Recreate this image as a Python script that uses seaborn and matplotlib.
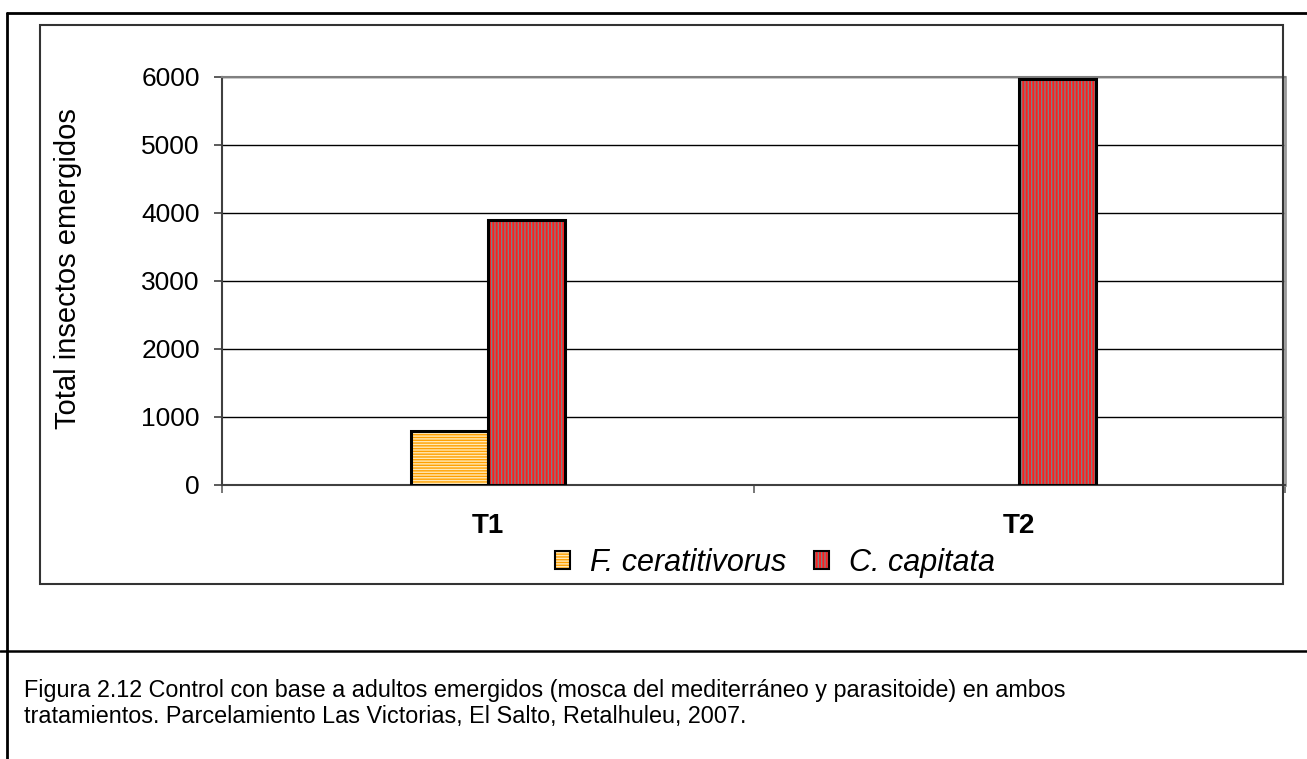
import matplotlib
matplotlib.use("Agg")
import matplotlib.pyplot as plt
from matplotlib.patches import Rectangle, Patch
from matplotlib.lines import Line2D
import pandas as pd
import seaborn as sns

# Data
treatments = ["T1", "T2"]
species = ["F. ceratitivorus", "C. capitata"]
f_ceratitivorus = [790, 0]
c_capitata = [3890, 5970]
y_ticks = [0, 1000, 2000, 3000, 4000, 5000, 6000]

caption = ("Figura 2.12 Control con base a adultos emergidos (mosca del mediterráneo y parasitoide) en ambos\n"
           "tratamientos. Parcelamiento Las Victorias, El Salto, Retalhuleu, 2007.")

df = pd.DataFrame({
    "Tratamiento": treatments * 2,
    "Especie": [species[0]] * 2 + [species[1]] * 2,
    "Total": f_ceratitivorus + c_capitata,
})

sns.set_theme(style="white")
plt.rcParams["font.family"] = ["Liberation Sans", "DejaVu Sans"]
plt.rcParams["hatch.linewidth"] = 1.0
plt.rcParams["text.color"] = "black"
plt.rcParams["xtick.color"] = "black"
plt.rcParams["ytick.color"] = "black"
plt.rcParams["axes.labelcolor"] = "black"

fill_colors = {species[0]: "#FFE9B8", species[1]: "#FF1E1E"}
stripe_colors = {species[0]: "#FFA000", species[1]: "#808080"}
hatches = {species[0]: "------", species[1]: "|||||"}

fig = plt.figure(figsize=(13.07, 7.59), dpi=100)
ax = fig.add_axes([222 / 1307, 1 - 485 / 759, 1063 / 1307, 408 / 759])

sns.barplot(data=df, x="Tratamiento", y="Total", hue="Especie",
            hue_order=species, order=treatments, palette=fill_colors,
            width=0.29, legend=False, ax=ax, zorder=3)

# Striped fill plus a black outline for every bar
for container, sp in zip(ax.containers, species):
    for bar in container:
        bar.set_facecolor(fill_colors[sp])
        bar.set_edgecolor(stripe_colors[sp])
        bar.set_hatch(hatches[sp])
        bar.set_linewidth(0)
        if bar.get_height() > 0:
            ax.add_patch(Rectangle(bar.get_xy(), bar.get_width(), bar.get_height(),
                                   fill=False, edgecolor="black", linewidth=2.2, zorder=4))

ax.set_ylim(0, 6000)
ax.set_xlim(-0.5, 1.5)
ax.set_yticks(y_ticks)
ax.set_yticklabels([str(v) for v in y_ticks], fontsize=19)
ax.yaxis.grid(True, color="black", linewidth=1.0)
ax.set_axisbelow(True)
ax.tick_params(axis="y", length=6, width=1.2, color="#404040", pad=10, left=True)

ax.set_xticks([0, 1])
ax.set_xticklabels(treatments, fontsize=20, fontweight="bold")
ax.set_xticks([-0.5, 0.5, 1.5], minor=True)
ax.tick_params(axis="x", which="major", length=0, pad=20)
ax.tick_params(axis="x", which="minor", length=6, width=1.2, color="#606060", bottom=True)
ax.set_xlabel("")
ax.set_ylabel("Total insectos emergidos", fontsize=21)
ax.yaxis.set_label_coords(-0.132, 0.53)

for side in ["left", "bottom"]:
    ax.spines[side].set_color("#404040")
    ax.spines[side].set_linewidth(1.5)
ax.spines["top"].set_color("#808080")
ax.spines["top"].set_linewidth(1.5)
ax.spines["right"].set_color("#999999")
ax.spines["right"].set_linewidth(2.0)

# Legend with striped swatches
handles = [
    (Patch(facecolor=fill_colors[sp], edgecolor=stripe_colors[sp], hatch=hatches[sp], linewidth=0),
     Patch(fill=False, edgecolor="black", linewidth=1.5))
    for sp in species
]
leg = fig.legend(handles, species, loc="center", bbox_to_anchor=(775 / 1307, 1 - 563 / 759),
                 ncol=2, frameon=False, handlelength=0.5, handleheight=0.5,
                 handletextpad=0.65, columnspacing=0.9,
                 prop={"size": 22, "style": "italic"})

# Chart frame
fig.patches.append(Rectangle((40 / 1307, 1 - 584 / 759), 1243 / 1307, 559 / 759,
                             transform=fig.transFigure, fill=False,
                             edgecolor="#333333", linewidth=1.5, zorder=0))

# Page lines around the figure and above the caption
fig.add_artist(Line2D([7 / 1307, 1], [1 - 13 / 759, 1 - 13 / 759], color="black", linewidth=2))
fig.add_artist(Line2D([7 / 1307, 7 / 1307], [0, 1 - 13 / 759], color="black", linewidth=2))
fig.add_artist(Line2D([0, 1], [1 - 651 / 759, 1 - 651 / 759], color="black", linewidth=1.8))

fig.text(24 / 1307, 1 - 679 / 759, caption, fontsize=16.8, ha="left", va="top",
         linespacing=1.18)

fig.savefig("out.png", dpi=100)
